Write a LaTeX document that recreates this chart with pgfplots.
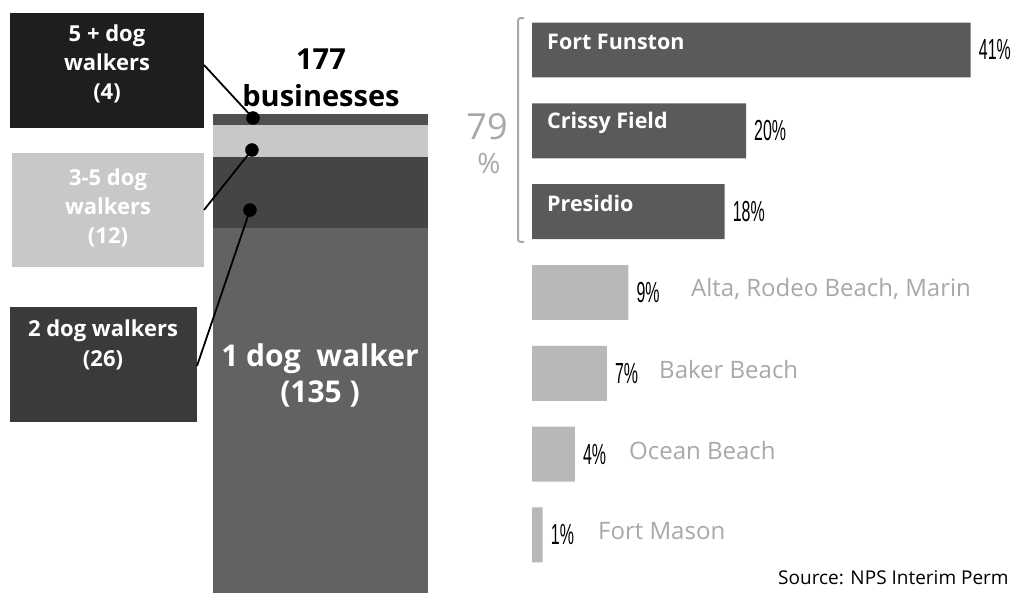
\documentclass[border=0pt]{standalone}
\usepackage{pgfplots}
\pgfplotsset{compat=1.18}
\usepackage{fontspec}
\setmainfont{Open Sans}
\newfontfamily\pctfont{Liberation Sans}
\definecolor{boxA}{HTML}{1E1E1E}
\definecolor{segA}{HTML}{505050}
\definecolor{lightg}{HTML}{C8C8C8}
\definecolor{boxC}{HTML}{3A3A3A}
\definecolor{segC}{HTML}{454545}
\definecolor{segD}{HTML}{626262}
\definecolor{barDark}{HTML}{5A5A5A}
\definecolor{barLight}{HTML}{B8B8B8}
\definecolor{txtgray}{HTML}{A8A8A8}
\begin{document}
\begin{tikzpicture}[x=1pt,y=1pt]
% ---- left: stacked bar of businesses ----
\begin{axis}[at={(213pt,0pt)}, anchor=south west, scale only axis,
  width=215pt, height=479pt, xmin=0, xmax=1, ymin=0, ymax=177,
  enlargelimits=false, hide axis, clip=false,
  ybar stacked, bar width=1]
\addplot[fill=segD, draw=none] coordinates {(0.5,135)};
\addplot[fill=segC, draw=none] coordinates {(0.5,26)};
\addplot[fill=lightg, draw=none] coordinates {(0.5,12)};
\addplot[fill=segA, draw=none] coordinates {(0.5,4)};
\coordinate (d1) at (axis cs:0.186,175.5);
\coordinate (d2) at (axis cs:0.181,163.7);
\coordinate (d3) at (axis cs:0.172,141.5);
\end{axis}
\begin{axis}[at={(213pt,0pt)}, anchor=south west, scale only axis,
  width=215pt, height=479pt, xmin=0, xmax=1, ymin=0, ymax=177,
  enlargelimits=false, hide axis, clip=false]
\addplot[only marks, mark=*, mark size=6.5pt, black] coordinates {(0.186,175.5) (0.181,163.7) (0.172,141.5)};
\end{axis}
% boxes
\fill[boxA] (10,593-13) rectangle (204,593-128);
\fill[lightg] (12,593-153) rectangle (204,593-267);
\fill[boxC] (10,593-307) rectangle (197,593-422);
\node[white, align=center, font=\fontsize{22}{29}\selectfont\bfseries, inner sep=0] at (107,593-64) {5 + dog\\walkers\\(4)};
\node[white, align=center, font=\fontsize{22}{29}\selectfont\bfseries, inner sep=0] at (108,593-208) {3-5 dog\\walkers\\(12)};
\node[white, align=center, font=\fontsize{22}{30}\selectfont\bfseries, inner sep=0] at (103,593-345) {2 dog walkers\\(26)};
\node[white, align=center, font=\fontsize{30}{36}\selectfont\bfseries, inner sep=0] at (320,593-375) {1 dog\ \ walker\\(135 )};
\node[black, align=center, font=\fontsize{29}{37}\selectfont\bfseries, inner sep=0] at (321,593-78) {177\\businesses};
\draw[black, line width=1.8pt] (204,593-65) -- (d1);
\draw[black, line width=1.8pt] (204,593-210) -- (d2);
\draw[black, line width=1.8pt] (197,593-366) -- (d3);
% ---- right: bars by location ----
\begin{axis}[at={(532pt,17.6pt)}, anchor=south west, scale only axis,
  width=481.5pt, height=565.8pt, xmin=0, xmax=45, ymin=0.5, ymax=7.5,
  enlargelimits=false, hide axis, clip=false,
  xbar, bar width=0.68, bar shift=0pt, point meta=x,
  nodes near coords={\pctfont\scalebox{0.55}[1]{\pgfmathprintnumber[assume math mode=true]{\pgfplotspointmeta}\%}},
  every node near coord/.append style={font=\fontsize{29}{30}\selectfont, black, anchor=west, inner sep=1pt, xshift=7pt}]
\addplot[fill=barDark, draw=none] coordinates {(41,7) (20,6) (18,5)};
\addplot[fill=barLight, draw=none] coordinates {(9,4) (7,3) (4,2) (1,1)};
\node[white, anchor=west, inner sep=0, font=\fontsize{21.5}{24}\selectfont\bfseries, xshift=15pt, yshift=8pt] at (axis cs:0,7) {Fort Funston};
\node[white, anchor=west, inner sep=0, font=\fontsize{21.5}{24}\selectfont\bfseries, xshift=15pt, yshift=8pt] at (axis cs:0,6) {Crissy Field};
\node[white, anchor=west, inner sep=0, font=\fontsize{21.5}{24}\selectfont\bfseries, xshift=15pt, yshift=8pt] at (axis cs:0,5) {Presidio};
\node[txtgray, anchor=west, inner sep=0, font=\fontsize{24}{26}\selectfont, xshift=159pt, yshift=4pt] at (axis cs:0,4) {Alta, Rodeo Beach, Marin};
\node[txtgray, anchor=west, inner sep=0, font=\fontsize{24}{26}\selectfont, xshift=127pt, yshift=4pt] at (axis cs:0,3) {Baker Beach};
\node[txtgray, anchor=west, inner sep=0, font=\fontsize{24}{26}\selectfont, xshift=97pt, yshift=4pt] at (axis cs:0,2) {Ocean Beach};
\node[txtgray, anchor=west, inner sep=0, font=\fontsize{24}{26}\selectfont, xshift=66pt, yshift=4pt] at (axis cs:0,1) {Fort Mason};
\end{axis}
% bracket and 79 %
\draw[txtgray, line width=2pt] (524,593-18) .. controls (518,593-18) .. (518,593-24) -- (518,593-236) .. controls (518,593-242) .. (524,593-242);
\node[txtgray, font=\fontsize{36}{40}\selectfont, inner sep=0] at (487,593-127) {79};
\node[txtgray, font=\fontsize{28}{30}\selectfont, inner sep=0] at (489,593-164) {\%};
\node[black, anchor=west, inner sep=0, font=\fontsize{19}{22}\selectfont] at (778,593-578) {Source: NPS Interim Perm};
\pgfresetboundingbox
\useasboundingbox (0,0) rectangle (1017,593);
\end{tikzpicture}
\end{document}
